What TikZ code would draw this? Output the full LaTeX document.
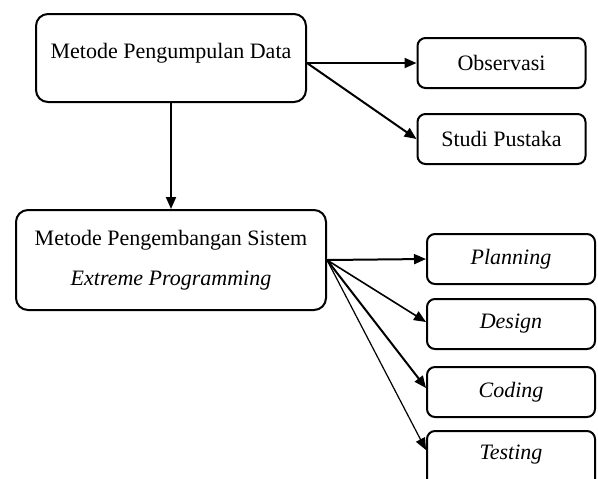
\documentclass[tikz,border=0pt]{standalone}
\usepackage{fontspec}
\setmainfont{Liberation Serif}
\usepackage{tikz}
\usetikzlibrary{positioning,arrows.meta}
\tikzset{bigbox/.style={draw,rounded corners=6pt,line width=1pt,align=center},
	 smallbox/.style={draw,rounded corners=4pt,line width=1pt,minimum width=84pt,minimum height=25pt,align=center},
	 link/.style={-{Triangle[length=6pt,width=5pt]},line width=1pt}
	 }

\begin{document}
\begin{tikzpicture}[x=0.5pt,y=-0.5pt,font=\fontsize{11}{13}\selectfont] % alur metode penelitian
	\clip (0,0) rectangle (598,478);
	\useasboundingbox (0,0) rectangle (598,478);
	\node[bigbox,minimum width=135pt,minimum height=44pt,text height=8pt,text depth=8pt] (mpd) at (171,58) {Metode Pengumpulan Data};
	\node[smallbox] (obs) at (501.5,63) {Observasi};
	\node[smallbox] (stp) at (501.5,139) {Studi Pustaka};
	\node[bigbox,minimum width=155pt,minimum height=50pt] (mps) at (171,260) {Metode Pengembangan Sistem\\[7pt] \textit{Extreme Programming}};
	\node[smallbox] (pln) at (511,259) {\textit{Planning}};
	\node[smallbox] (dsg) at (511,324) {\textit{Design}};
	\node[smallbox] (cod) at (511,392) {\textit{Coding}};
	\node[smallbox,minimum height=30pt,text height=6pt,text depth=8pt] (tst) at (511,461) {\textit{Testing}};
	\coordinate (mpdout) at ([yshift=-2.5pt]mpd.east);
	\draw[link] (mpdout) to (obs.west); \draw[link] (mpdout) to (stp.west);
	\draw[link] (mpd.south) to (mps.north);
	\draw[link] (mps.east) to (pln.west); \draw[link,line width=0.8pt] (mps.east) to ([yshift=1pt]dsg.west);
	\draw[link] (mps.east) to ([yshift=2pt]cod.west); \draw[link,line width=0.6pt] (mps.east) to ([yshift=5.5pt]tst.west);
\end{tikzpicture}
\end{document}
